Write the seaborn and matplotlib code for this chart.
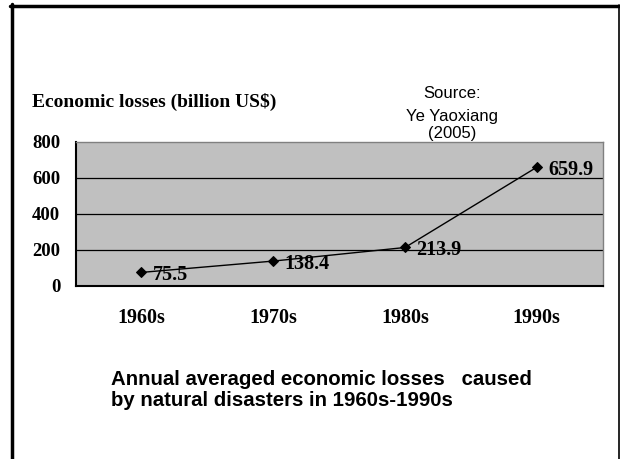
import matplotlib
matplotlib.use("Agg")
import matplotlib.pyplot as plt
from matplotlib.lines import Line2D
from matplotlib.ticker import FixedLocator
import seaborn as sns
import pandas as pd

# Decade averages of economic losses from natural disasters
decades = ["1960s", "1970s", "1980s", "1990s"]
losses = [75.5, 138.4, 213.9, 659.9]
y_ticks = [0, 200, 400, 600, 800]

df = pd.DataFrame({"decade": decades, "loss": losses})

sns.set_style("white")
plt.rcParams.update({"text.color": "black", "xtick.color": "black",
                     "ytick.color": "black", "axes.labelcolor": "black"})
serif = ["Liberation Serif", "DejaVu Serif"]
sans = ["Liberation Sans", "DejaVu Sans"]

W, H = 620, 459
fig = plt.figure(figsize=(W / 100, H / 100), dpi=100)
fig.patch.set_facecolor("white")

left, right, top, bottom = 75.5, 602.7, 142.0, 286.0
ax = fig.add_axes([left / W, (H - bottom) / H, (right - left) / W, (bottom - top) / H])
ax.set_facecolor("#C0C0C0")

sns.lineplot(data=df, x="decade", y="loss", ax=ax, color="black", linewidth=1.0,
             marker="D", markersize=5, markeredgecolor="black",
             markerfacecolor="black", sort=False, zorder=5)

ax.set_xlim(-0.5, len(decades) - 0.5)
ax.set_ylim(y_ticks[0], y_ticks[-1])
ax.set_yticks(y_ticks)
ax.set_xticks(range(len(decades)))
ax.set_xticklabels(decades)
ax.xaxis.set_minor_locator(FixedLocator([i + 0.5 for i in range(len(decades) - 1)]))

for y in y_ticks[1:-1]:
    ax.axhline(y, color="black", linewidth=0.9, zorder=1)

ax.set_xlabel("")
ax.set_ylabel("")

for lab in ax.get_yticklabels():
    lab.set_fontfamily(serif)
    lab.set_fontweight("bold")
    lab.set_fontsize(13.5)
for lab in ax.get_xticklabels():
    lab.set_fontfamily(serif)
    lab.set_fontweight("bold")
    lab.set_fontsize(14.5)

ax.tick_params(axis="x", which="major", length=0, pad=16)
ax.tick_params(axis="x", which="minor", direction="in", length=6, width=1, color="black")
ax.tick_params(axis="y", which="major", direction="in", length=5, width=1,
               color="black", pad=11)

for side in ("left", "bottom"):
    ax.spines[side].set_color("black")
    ax.spines[side].set_linewidth(1.5)
for side in ("top", "right"):
    ax.spines[side].set_color("#808080")
    ax.spines[side].set_linewidth(1.0)
    ax.spines[side].set_visible(True)

# value labels beside each point
for i, v in enumerate(losses):
    ax.annotate(f"{v}", xy=(i, v), xytext=(8, -2), textcoords="offset points",
                ha="left", va="center", fontsize=14.5, fontweight="bold",
                fontfamily=serif, zorder=6)

# axis caption, source note and chart caption
fig.text(32 / W, 1 - 102 / H, "Economic losses (billion US$)", ha="left", va="center",
         fontsize=14, fontweight="bold", family=serif)
fig.text(452 / W, 1 - 93 / H, "Source:", ha="center", va="center", fontsize=12, family=sans)
fig.text(452 / W, 1 - 117 / H, "Ye Yaoxiang", ha="center", va="center", fontsize=12, family=sans)
fig.text(452 / W, 1 - 134 / H, "(2005)", ha="center", va="center", fontsize=12, family=sans)
fig.text(111 / W, 1 - 390 / H,
         "Annual averaged economic losses   caused\nby natural disasters in 1960s-1990s",
         ha="left", va="center", fontsize=14.7, fontweight="bold", family=sans,
         linespacing=1.15)

# slide frame
fig.add_artist(Line2D([11.5 / W, 11.5 / W], [0, 1 - 4 / H], transform=fig.transFigure,
                      color="black", linewidth=2.5))
fig.add_artist(Line2D([10 / W, 1], [1 - 5.5 / H, 1 - 5.5 / H], transform=fig.transFigure,
                      color="black", linewidth=2.5))
fig.add_artist(Line2D([618.5 / W, 618.5 / W], [0, 1 - 5 / H], transform=fig.transFigure,
                      color="black", linewidth=1.2))

fig.savefig("out.png", dpi=100)
